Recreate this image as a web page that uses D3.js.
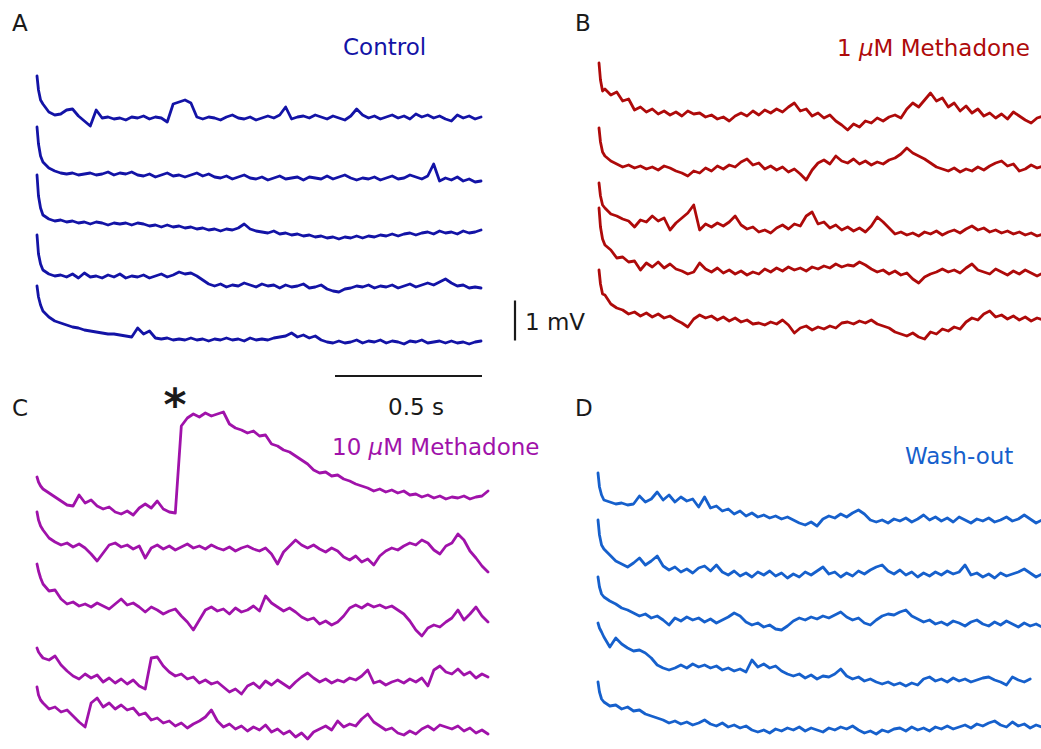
<!DOCTYPE html>
<html><head><meta charset="utf-8">
<script src="https://cdn.jsdelivr.net/npm/d3@7"></script>
<style>html,body{margin:0;padding:0;background:#fff;} svg{display:block;font-family:"DejaVu Sans",sans-serif;}</style>
</head><body><svg id="chart" width="1041" height="749"></svg>
<script>
// ---------------- DATA ----------------
const panelLetters = ["A", "B", "C", "D"];
const conditionLabels = ["Control", "1 μM Methadone", "10 μM Methadone", "Wash-out"];
const scaleBarLabels = ["1 mV", "0.5 s"];
const scaleBarVoltage = 1000; // μV
const scaleBarTime = 0.5;     // s
const traceDuration = 1.5;    // s

// sample times (s): fine samples over the onset transient, then every 20 ms
const sampleTimes = [0, 0.005, 0.012].concat(d3.range(1, 76).map(i => +(i * 0.02).toFixed(2)));

// membrane potential traces, μV relative to each sweep's resting level
const controlTraces = [
  [1050,700,450, 350,150,75,100,200,225,50,-75,-200,200, 0,25,-25,0,-50,25,0,50,-25,25, 0,-100,350,400,450,375,25,-25,25,0, -50,25,75,0,-25,25,-50,0,50,0, 75,275,-25,25,50,0,75,25,-25,50, 0,-50,50,225,75,0,50,-25,25,75, 0,50,-25,100,25,75,0,50,-25,-75, 75,0,50,-25,25],
  [1275,850,550, 400,250,175,125,100,125,75,100,125,75, 100,150,75,125,100,150,75,50,100,25, 75,125,50,75,25,75,125,50,100,25, 0,50,-25,25,75,0,-25,25,-50,0, 50,-25,0,25,-50,25,0,-25,50,-25, 25,75,0,-50,0,-25,25,-50,0,50, -25,0,75,25,-25,50,350,-75,0,-50, 25,-75,-25,-100,-75],
  [1425,900,600, 425,325,275,300,250,275,225,250,200,250, 225,175,225,200,225,175,225,200,150,175, 125,175,125,150,100,125,75,100,50,75, 25,75,50,100,200,75,25,0,-25,25, -50,-25,-75,-50,-100,-75,-125,-100,-150,-125, -175,-125,-150,-100,-150,-100,-125,-75,-100,-50, -100,-50,-25,-75,-25,0,-50,25,-25,0, -50,25,-25,0,50],
  [1275,800,550, 400,300,250,275,225,300,200,325,225,250, 200,275,225,300,200,250,225,275,200,250, 300,225,275,350,300,325,250,150,50,0, 50,-25,25,0,75,25,-25,50,0,25, -50,25,-25,0,50,-50,-25,25,-75,-125, -150,-75,-50,0,-25,25,-50,0,-25,25, -50,0,50,-25,25,75,25,100,175,75, 0,25,-50,-25,-50],
  [1400,1125,925, 775,625,525,475,425,375,350,300,275,250, 225,200,200,175,150,125,350,200,275,100, 75,100,50,75,50,100,50,75,25,75, 50,100,50,75,25,100,50,75,50,100, 125,150,225,125,175,100,150,50,0,-25, 25,-25,0,50,-25,25,0,50,-25,25, 0,-50,25,0,50,-25,0,25,-25,25, -25,0,-50,0,25]
];
const methadone1Traces = [
  [1300,875,600, 650,500,575,350,400,125,200,75,150,25, 100,0,75,-25,100,25,50,-50,0,-100, -50,-150,-25,50,-25,100,0,125,50,150, 75,200,300,100,150,-25,50,-75,0,-150, -250,-375,-225,-300,-150,-200,-75,-150,-50,0, -75,150,300,200,375,550,350,425,200,300, 100,225,50,150,-25,50,-75,25,-100,75, -25,-125,-200,-75,-25],
  [1000,650,400, 300,175,100,25,75,0,50,-25,25,-50, 50,0,-75,-125,-200,-75,-125,0,-75,50, -25,75,25,150,225,75,125,-25,50,-50, 25,-100,-25,-150,-300,-50,125,200,100,300, 175,125,225,100,175,75,150,100,200,250, 350,500,375,300,225,125,25,-25,-75,0, -100,-25,-75,25,-50,50,125,175,50,100, -75,-25,75,0,50],
  [1225,900,675, 600,450,400,325,275,125,300,250,400,275, 350,50,225,350,475,675,50,200,125,225, 150,250,400,175,75,125,0,50,-25,100, 175,75,200,150,400,500,200,250,100,175, 50,125,25,100,0,150,375,250,100,-50, 0,-75,-25,-100,0,-50,25,-75,0,50, -25,75,150,50,100,0,50,-25,25,-50, 0,-75,-25,-100,-50],
  [1600,1125,825, 675,550,350,375,250,275,50,225,125,250, 100,200,75,25,-50,0,225,75,0,100, -25,50,-50,25,-75,0,-50,75,0,100, 25,125,50,100,25,125,75,150,100,200, 125,175,150,250,175,75,0,50,-50,25, -75,-25,-175,-275,-125,-50,0,75,0,50, -25,100,200,50,0,-50,75,0,-75,25, -50,50,-25,-100,-25],
  [1300,950,700, 675,450,350,300,200,250,150,225,125,200, 100,150,50,-25,-125,75,175,100,150,50, 125,25,100,0,50,-50,-25,-75,0,-50, 50,-75,-275,-150,-100,-200,-125,-175,-100,-150, -25,0,-50,25,-25,50,-50,-100,-150,-250, -300,-350,-275,-375,-425,-250,-300,-175,-225,-125, -175,0,100,50,200,275,125,175,75,150, 50,125,25,100,50]
];
const methadone10Traces = [
  [825,700,600, 525,425,325,225,125,100,375,175,250,100, 25,75,-50,-100,-25,-125,50,150,50,225, 25,-50,-75,2100,2300,2400,2325,2425,2350,2400, 2450,2150,2050,2000,1925,1975,1850,1875,1650,1600, 1500,1450,1350,1250,1150,1000,925,950,850,875, 775,725,650,600,550,475,525,450,500,425, 475,375,400,325,375,300,350,275,325,300, 350,275,325,350,475],
  [900,700,550, 450,250,150,75,125,25,100,0,-150,-325, -125,75,125,25,75,-25,50,-250,0,75, -25,50,-50,25,100,0,50,-25,75,0, -50,25,-75,0,50,-25,-75,0,-150,-400, -100,50,200,75,0,75,-25,-100,0,-75, -225,-300,-200,-350,-275,-425,-200,-75,0,-50, 50,125,75,200,125,-50,-150,50,125,350, 200,-75,-250,-450,-600],
  [1100,925,750, 600,425,450,225,100,150,50,100,25,125, 50,-25,100,225,75,125,25,-100,25,-50, -150,-75,-25,-200,-350,-550,-300,-50,25,-75, -25,-150,0,-100,-50,50,-75,300,125,25, -75,0,-100,-225,-300,-250,-400,-325,-425,-350, -200,0,75,0,100,25,75,0,50,-50, -150,-325,-550,-700,-500,-425,-475,-350,-250,-50, -300,-150,25,-200,-350],
  [800,700,625, 550,500,600,375,225,100,25,150,50,125, -50,50,-75,25,-100,0,-150,-225,550,575, 350,200,100,150,25,75,-75,0,-100,-50, -175,-300,-225,-350,-150,-75,-200,-25,-125,0, -100,-200,-50,75,175,50,-50,25,-75,0, -50,50,0,100,250,-75,-25,-125,-50,0, -75,25,-50,50,-150,250,350,200,150,275, 125,200,50,150,75],
  [1000,800,675, 600,450,500,375,425,275,125,0,600,725, 500,600,450,550,425,475,300,350,175,225, 100,150,25,100,-25,75,150,250,425,150, 0,75,-50,25,-100,0,-75,50,-125,-50, -175,-100,-250,-150,-300,-125,-50,25,-75,150, 0,75,25,200,325,125,25,-75,-25,-150, -200,-100,-175,-50,25,-75,50,0,-50,25, -100,-25,-150,-75,-175]
];
const washoutTraces = [
  [1175,825,625, 500,450,400,425,375,400,600,450,525,700, 500,625,450,575,475,525,325,575,300,350, 225,275,150,225,100,175,75,125,50,100, 25,75,0,-75,-125,-50,-150,25,100,50, 150,75,175,250,150,0,-50,0,-75,25, -25,50,-50,25,125,0,75,-25,50,-50, 75,0,-75,25,-25,50,-50,0,75,-25, 25,125,25,-75,0],
  [1375,1000,750, 650,500,350,275,200,300,425,250,350,475, 225,125,200,75,150,50,175,225,100,250, 75,0,100,-25,50,-50,75,0,100,-25, 50,-75,25,-50,75,0,100,200,25,75, -50,50,-25,100,25,125,200,250,100,25, 125,0,75,-50,50,-25,75,0,100,25, 75,250,0,50,-50,25,-75,50,-25,25, 75,150,50,-50,25],
  [1125,875,700, 625,525,450,350,300,225,150,200,100,150, 50,-75,100,25,125,50,100,0,75,-25, 50,125,225,150,0,-75,-25,-125,-75,-175, -200,-100,25,100,50,125,75,150,100,175, 250,125,50,100,-25,-75,50,150,200,175, 250,300,150,75,0,50,-50,0,-75,25, -25,-100,0,50,-50,-100,0,-75,25,-50, -125,-25,-100,-50,-125],
  [1425,1300,1200, 1075,825,1050,900,800,725,750,675,550,375, 300,250,300,375,300,400,325,375,300,350, 250,300,225,275,200,500,325,400,300,350, 225,150,100,150,50,125,25,100,75,150, 275,100,25,75,-25,25,-50,-100,-50,-125, -75,-150,-75,-125,25,75,-25,25,-50,50, -25,25,-50,0,50,75,0,-50,-125,75, 0,-50,25],
  [1150,900,725, 650,550,575,475,525,425,450,350,300,250, 200,125,175,100,150,75,125,200,100,50, 125,25,75,0,50,-50,-100,-50,-125,-25, -75,0,-50,25,-75,0,-50,-100,0,-50, 25,-25,50,-50,-125,-75,-150,-50,-100,-25, 0,-75,25,-50,0,-75,25,-25,50,-25, 25,75,0,100,50,125,175,75,25,150, 50,100,0,75,25]
];
const panelTraces = [controlTraces, methadone1Traces, methadone10Traces, washoutTraces];

// ---------------- LAYOUT / STYLE ----------------
const layout = [
  { x0: 37,  x1: 481,  bases: [118, 178, 232, 286, 342], color: "#1313a6", letter: [12, 31],  title: [343, 55] },
  { x0: 599, x1: 1043, bases: [115, 168, 232, 272, 322], color: "#ae0a0a", letter: [575, 31], title: [837, 56] },
  { x0: 37,  x1: 488,  bases: [510, 548, 608, 680, 727], color: "#a012aa", letter: [12, 416], title: [332, 455] },
  { x0: 598, x1: 1042, bases: [520, 575, 622, 680, 728], color: "#1660cc", letter: [575, 416], title: [905, 464] }
];
const pxPerMilliVolt = 40;
const fontSize = 23;

const svg = d3.select("#chart");

function addLabel(g, text, x, y, color) {
  const t = g.append("text").attr("x", x).attr("y", y)
    .attr("font-size", fontSize).attr("fill", color);
  const parts = text.split("μ");
  parts.forEach((p, i) => {
    if (i > 0) t.append("tspan").attr("font-style", "italic").text("μ");
    if (p.length) t.append("tspan").text(p);
  });
}

const xScales = [];
panelTraces.forEach((traces, pi) => {
  const L = layout[pi];
  const g = svg.append("g").attr("class", "panel-" + panelLetters[pi]);
  const x = d3.scaleLinear().domain([0, traceDuration]).range([L.x0, L.x1]);
  xScales.push(x);
  traces.forEach((vals, ti) => {
    const base = L.bases[ti];
    const y = d3.scaleLinear().domain([0, 1000]).range([base, base - pxPerMilliVolt]);
    const line = d3.line().x((d, i) => x(sampleTimes[i])).y(d => y(d));
    g.append("path").datum(vals)
      .attr("d", line)
      .attr("fill", "none")
      .attr("stroke", L.color)
      .attr("stroke-width", 2.8)
      .attr("stroke-linejoin", "round")
      .attr("stroke-linecap", "round");
  });
  g.append("text").attr("x", L.letter[0]).attr("y", L.letter[1])
    .attr("font-size", 23).attr("fill", "#1a1a1a").text(panelLetters[pi]);
  addLabel(g, conditionLabels[pi], L.title[0], L.title[1], L.color);
});

// scale bars (drawn with panel A's scales)
const xA = xScales[0];
const yBar = d3.scaleLinear().domain([0, 1000]).range([340.5, 340.5 - pxPerMilliVolt]);
const sb = svg.append("g").attr("class", "scalebars");
sb.append("line")
  .attr("x1", 515).attr("x2", 515)
  .attr("y1", yBar(0)).attr("y2", yBar(scaleBarVoltage))
  .attr("stroke", "#1a1a1a").attr("stroke-width", 2.2);
sb.append("line")
  .attr("x1", xA(traceDuration - scaleBarTime) + 2).attr("x2", xA(traceDuration) + 1)
  .attr("y1", 376).attr("y2", 376)
  .attr("stroke", "#1a1a1a").attr("stroke-width", 2.2);
sb.append("text").attr("x", 525).attr("y", 330).attr("font-size", fontSize)
  .attr("fill", "#1a1a1a").text(scaleBarLabels[0]);
sb.append("text").attr("x", 388).attr("y", 415).attr("font-size", fontSize)
  .attr("fill", "#1a1a1a").text(scaleBarLabels[1]);
// event marker
svg.append("text").attr("x", 175).attr("y", 420).attr("text-anchor", "middle")
  .attr("font-size", 44).attr("font-weight", "bold").attr("fill", "#1a1a1a").text("*");
</script>
</body></html>
